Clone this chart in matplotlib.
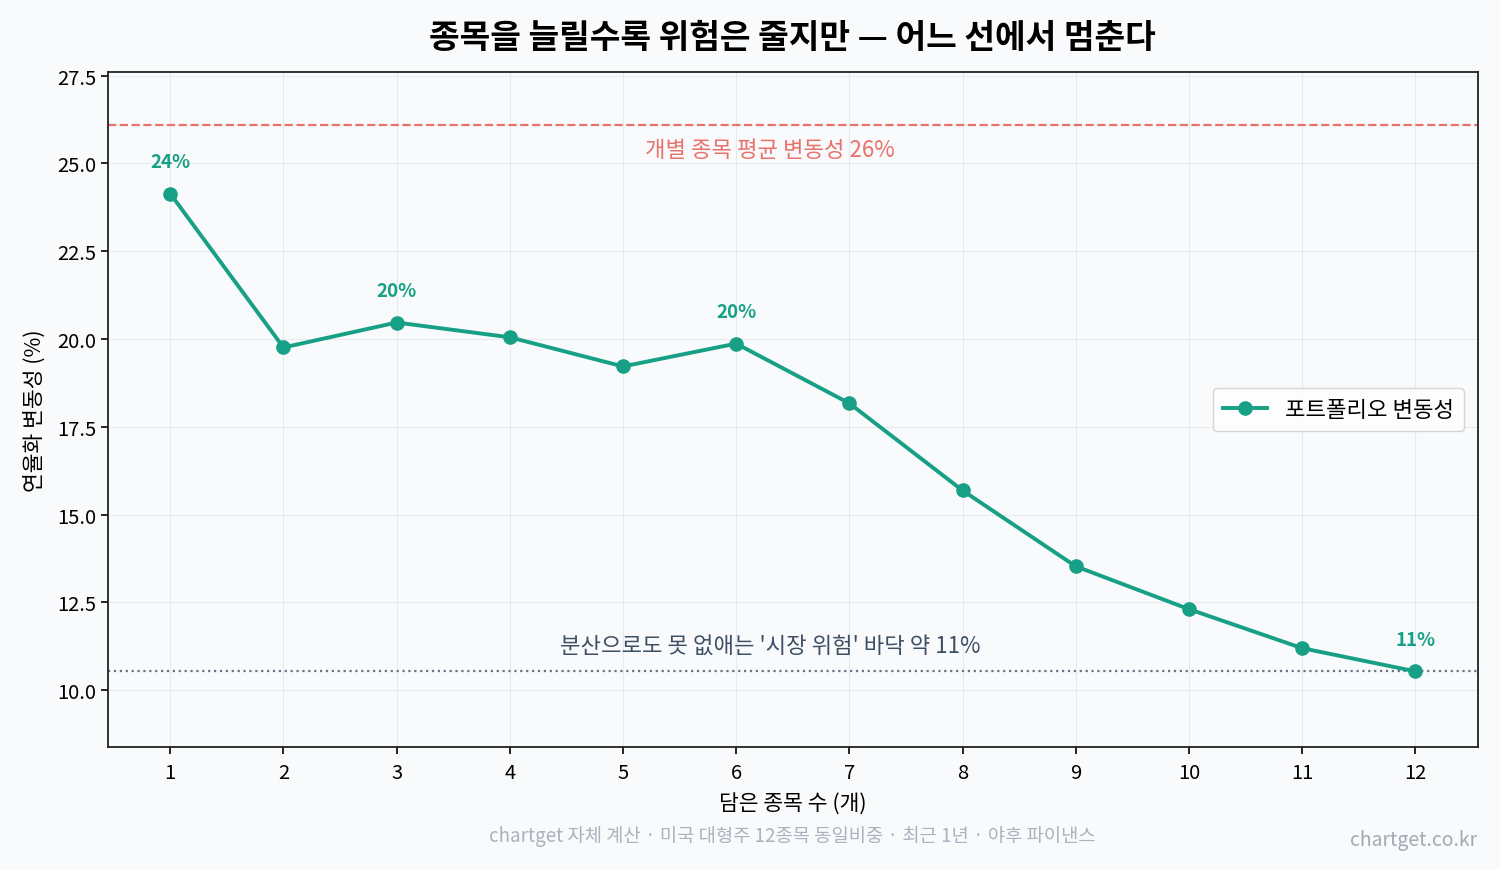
import numpy as np
import matplotlib
matplotlib.use("Agg")
import matplotlib.pyplot as plt

plt.rcParams['font.family'] = ['Noto Sans CJK KR', 'DejaVu Sans']
plt.rcParams['axes.unicode_minus'] = False

# data
n_stocks = [1, 2, 3, 4, 5, 6, 7, 8, 9, 10, 11, 12]
port_vol = [24.14, 19.76, 20.47, 20.05, 19.22, 19.87, 18.17, 15.69, 13.53, 12.31, 11.20, 10.54]
avg_single_vol = 26.08
market_floor = 10.54
label_points = [1, 3, 6, 12]

GREEN = '#17a085'
RED = '#e8625a'
BG = '#f8fafc'

fig, ax = plt.subplots(figsize=(15, 8.7), dpi=100)
fig.patch.set_facecolor(BG)
ax.set_facecolor(BG)
fig.subplots_adjust(left=0.072, right=0.985, top=0.916, bottom=0.14)

ax.plot(n_stocks, port_vol, '-o', color=GREEN, lw=2.8, ms=9.5, label='포트폴리오 변동성', zorder=3)

ax.axhline(avg_single_vol, color=RED, ls='--', lw=1.6, alpha=0.9, zorder=2)
ax.axhline(market_floor, color='#6b7280', ls=':', lw=1.6, zorder=2)

ax.text(6.3, avg_single_vol - 0.35, f'개별 종목 평균 변동성 {avg_single_vol:.0f}%',
        color=RED, fontsize=16, ha='center', va='top', alpha=0.9)
ax.text(6.3, market_floor + 0.4, f"분산으로도 못 없애는 '시장 위험' 바닥 약 {market_floor:.0f}%",
        color='#3d4f63', fontsize=16, ha='center', va='bottom')

for x in label_points:
    y = port_vol[x - 1]
    ax.annotate(f'{y:.0f}%', (x, y), xytext=(0, 16), textcoords='offset points',
                ha='center', va='bottom', color=GREEN, fontsize=13.5, fontweight='bold')

ax.set_xlim(0.45, 12.55)
ax.set_ylim(8.38, 27.6)
ax.set_xticks(n_stocks)
ax.set_yticks([10.0, 12.5, 15.0, 17.5, 20.0, 22.5, 25.0, 27.5])
ax.tick_params(axis='both', labelsize=14.5, length=5, width=1.2)
ax.tick_params(axis='x', pad=6)
ax.grid(True, color='#e3e6ea', lw=0.8, alpha=0.8)
for s in ax.spines.values():
    s.set_color('#222222')
    s.set_linewidth(1.3)

ax.set_xlabel('담은 종목 수 (개)', fontsize=15.5, labelpad=6)
ax.set_ylabel('연율화 변동성 (%)', fontsize=15.5, labelpad=8)
ax.set_title('종목을 늘릴수록 위험은 줄지만 — 어느 선에서 멈춘다', fontsize=24,
             fontweight='bold', pad=18)

leg = ax.legend(loc='center right', fontsize=16, frameon=True, borderpad=0.45,
                handlelength=2.0, bbox_to_anchor=(1.0, 0.5), borderaxespad=0.6)
leg.get_frame().set_edgecolor('#cccccc')
leg.get_frame().set_facecolor('white')

fig.text(0.528, 0.038, 'chartget 자체 계산 · 미국 대형주 12종목 동일비중 · 최근 1년 · 야후 파이낸스',
         ha='center', va='center', color='#aab2bd', fontsize=13.5)
fig.text(0.985, 0.034, 'chartget.co.kr', ha='right', va='center', color='#a0aab5', fontsize=14)

fig.savefig('out.png', dpi=100, facecolor=BG)
